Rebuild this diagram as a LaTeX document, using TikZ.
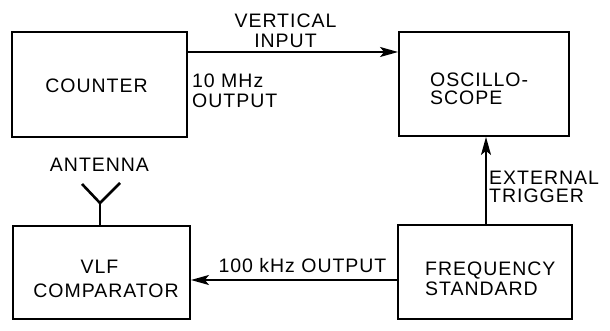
\documentclass[tikz,border=0pt]{standalone}
\usepackage{fontspec}
\setmainfont{Liberation Sans}[LetterSpace=5]
\usetikzlibrary{arrows.meta}
\begin{document}
\begin{tikzpicture}[x=1pt,y=-1pt,
  box/.style={draw,line width=1.9pt,inner sep=0pt,rectangle},
  lbl/.style={inner sep=0pt,font=\fontsize{19.5}{22}\selectfont},
  conn/.style={line width=1.5pt},
  arr/.style={conn,-{Stealth[length=18pt,width=10pt,inset=4pt]}}]
\useasboundingbox (0,0) rectangle (610,331);
% boxes
\node[box,minimum width=175pt,minimum height=105pt] (counter) at (99.5,84.5) {};
\node[box,minimum width=170pt,minimum height=104pt] (osc) at (484,84) {};
\node[box,minimum width=177pt,minimum height=93pt] (vlf) at (101.5,272.5) {};
\node[box,minimum width=174pt,minimum height=94pt] (freq) at (485,272) {};
% box texts
\node[lbl,anchor=base] (tcounter) at (96.5,93) {COUNTER};
\node[lbl,anchor=base west] (tosc1) at (430,87) {OSCILLO-};
\node[lbl,anchor=base west] (tosc2) at (430,105) {SCOPE};
\node[lbl,anchor=base] (tvlf1) at (99.5,273) {VLF};
\node[lbl,anchor=base] (tvlf2) at (106,297) {COMPARATOR};
\node[lbl,anchor=base west] (tfreq1) at (425,275) {FREQUENCY};
\node[lbl,anchor=base west] (tfreq2) at (425,295) {STANDARD};
% connector labels
\node[lbl,anchor=base] (tvert1) at (285.5,28) {VERTICAL};
\node[lbl,anchor=base] (tvert2) at (285.5,48) {INPUT};
\node[lbl,anchor=base west] (tmhz1) at (192,88) {10 MHz};
\node[lbl,anchor=base west] (tmhz2) at (192,108) {OUTPUT};
\node[lbl,anchor=base west] (text1) at (489,185) {EXTERNAL};
\node[lbl,anchor=base west] (text2) at (489,203) {TRIGGER};
\node[lbl,anchor=base] (tkhz) at (302.5,272) {100 kHz OUTPUT};
\node[lbl,anchor=base] (tant) at (99.5,172) {ANTENNA};
% connectors
\coordinate (vy) at (0,52);
\coordinate (hy) at (0,280);
\coordinate (tx) at (486,0);
\draw[arr] (counter.east |- vy) -- (osc.west |- vy);
\draw[arr] (freq.west |- hy) -- (vlf.east |- hy);
\draw[arr] (freq.north -| tx) -- (osc.south -| tx);
% antenna
\coordinate (aj) at (100,203);
\coordinate (al) at (82,184);
\coordinate (ar) at (120,183);
\draw[conn] (vlf.north -| aj) -- (aj);
\draw[line width=2.6pt,line join=miter] (al) -- (aj) -- (ar);
\end{tikzpicture}
\end{document}
